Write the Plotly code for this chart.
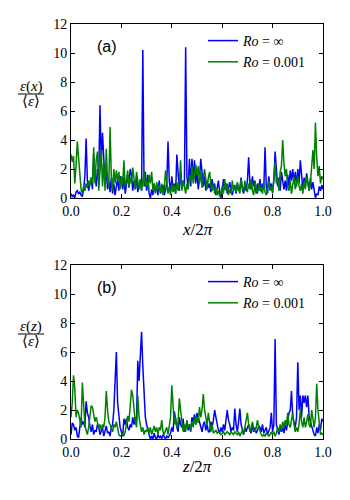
import numpy as np
import plotly.graph_objects as go

# sample positions x/2pi (and z/2pi), 201 points
pos = np.linspace(0.0, 1.0, 201)

# (a) eps(x)/<eps>
a_ro_inf = [
    0.3, 0.1, 0.2, 0.0, 0.4, 0.5, 0.3, 0.4, 0.2, 0.1,
    0.6, 1.5, 4.1, 1.2, 0.5, 0.9, 1.4, 0.6, 3.0, 1.6,
    0.8, 2.0, 1.2, 6.4, 2.5, 4.5, 3.0, 1.0, 1.8, 0.6,
    1.2, 0.4, 1.4, 0.3, 1.0, 0.2, 0.8, 1.3, 0.5, 1.5,
    1.2, 0.6, 1.4, 0.3, 0.9, 1.6, 0.8, 2.0, 1.6, 0.5,
    1.2, 0.6, 1.5, 0.4, 0.9, 1.2, 0.5, 10.2, 0.8, 1.8,
    0.5, 1.6, 0.3, 0.0, 0.6, 0.2, 1.0, 0.4, 0.8, 0.2,
    1.2, 0.3, 0.6, 0.9, 0.2, 0.5, 1.0, 3.9, 1.2, 0.4,
    1.5, 0.6, 1.0, 0.3, 3.0, 1.4, 0.5, 1.8, 0.7, 1.2,
    0.8, 10.4, 1.5, 0.6, 2.7, 0.8, 2.7, 1.2, 2.6, 1.0,
    1.8, 0.6, 1.4, 2.7, 1.8, 0.8, 1.5, 0.5, 1.2, 0.7,
    1.0, 0.4, 1.3, 0.6, 1.0, 0.2, 0.7, 1.2, 0.4, 0.0,
    0.5, 1.3, 0.6, 1.0, 0.3, 0.8, 1.1, 0.5, 0.2, 0.6,
    0.9, 0.3, 1.0, 0.5, 0.7, 1.4, 0.6, 0.3, 0.9, 0.5,
    1.2, 2.8, 1.0, 0.6, 1.5, 0.8, 1.2, 0.3, 1.0, 0.5,
    1.3, 0.4, 1.0, 0.6, 3.5, 0.8, 0.3, 1.5, 0.6, 1.0,
    0.4, 1.2, 3.2, 2.0, 0.8, 1.4, 0.5, 1.8, 1.0, 0.6,
    1.2, 0.5, 1.6, 0.8, 1.9, 1.2, 2.0, 1.0, 1.8, 0.8,
    2.0, 1.0, 2.6, 1.8, 0.6, 1.4, 0.8, 1.7, 1.2, 0.5,
    1.4, 0.6, 1.1, 0.4, 0.0, 0.3, 0.2, 0.8, 0.5, 0.9,
    0.6,
]
a_ro_001 = [
    3.0, 2.5, 2.9, 1.0, 2.2, 3.9, 2.8, 1.5, 0.6, 0.3,
    0.8, 0.5, 1.0, 0.7, 1.2, 0.9, 1.4, 1.0, 3.5, 1.0,
    2.6, 3.2, 0.5, 1.8, 3.3, 0.8, 2.5, 0.5, 3.4, 1.2,
    0.8, 4.9, 1.5, 0.5, 2.0, 1.0, 1.9, 1.2, 1.8, 0.6,
    1.5, 0.9, 2.6, 0.8, 1.2, 1.9, 0.7, 1.4, 1.0, 2.1,
    1.5, 0.6, 1.8, 1.0, 0.6, 1.3, 0.5, 1.2, 1.8, 0.8,
    1.2, 0.6, 1.6, 1.0, 1.8, 0.5, 1.0, 0.3, 1.1, 0.6,
    0.9, 0.4, 1.0, 0.2, 0.5, 1.9, 1.0, 0.3, 0.8, 0.2,
    1.0, 0.4, 0.9, 0.3, 1.1, 0.5, 1.0, 2.6, 0.5, 1.2,
    0.8, 0.3, 1.0, 0.6, 1.6, 1.1, 2.2, 1.0, 1.5, 2.3,
    1.6, 2.2, 1.0, 1.8, 0.7, 1.2, 2.0, 1.3, 0.6, 1.4,
    1.8, 0.9, 0.5, 1.0, 0.3, 0.7, 0.2, 0.5, 0.1, 0.4,
    0.8, 0.3, 1.3, 0.5, 1.0, 0.2, 0.6, 0.3, 1.2, 0.5,
    0.8, 0.4, 1.1, 0.6, 0.3, 1.3, 0.7, 0.5, 1.2, 0.6,
    0.4, 1.0, 0.6, 1.3, 0.5, 0.2, 1.1, 0.6, 0.3, 1.0,
    0.5, 0.8, 0.3, 1.0, 0.4, 0.2, 0.7, 1.2, 0.5, 0.8,
    0.3, 1.6, 2.5, 1.0, 1.4, 0.5, 1.8, 2.2, 4.0, 2.4,
    1.5, 2.0, 0.8, 0.5, 1.2, 0.3, 0.8, 1.5, 0.6, 1.0,
    1.5, 0.8, 0.5, 1.0, 0.3, 1.2, 0.6, 1.5, 0.9, 0.5,
    1.0, 2.0, 3.3, 2.0, 5.2, 2.8, 1.5, 2.2, 1.0, 1.5,
    1.3,
]

# (b) eps(z)/<eps>
b_ro_inf = [
    0.3, 1.1, 1.0, 0.6, 0.8, 0.2, 0.1, 0.8, 1.5, 1.0,
    1.2, 0.8, 2.6, 1.8, 1.5, 0.9, 0.5, 1.0, 0.3, 0.6,
    0.5, 1.0, 0.8, 0.3, 0.6, 0.8, 0.2, 0.5, 0.9, 0.4,
    0.5, 0.2, 0.8, 1.0, 2.0, 4.0, 6.0, 2.5, 1.5, 0.8,
    0.5, 0.2, 1.4, 1.0, 1.4, 0.8, 0.6, 1.0, 0.8, 1.5,
    1.0, 1.5, 1.2, 5.4, 4.0, 5.5, 7.4, 5.0, 3.0, 1.5,
    1.0, 0.5, 0.3, 0.0, 0.2, 0.0, 0.4, 0.1, 0.0, 0.3,
    0.1, 0.2, 0.0, 0.3, 0.1, 0.0, 0.2, 0.1, 0.2, 0.4,
    0.8, 0.5, 1.9, 1.2, 0.8, 0.5, 1.5, 1.0, 0.8, 1.4,
    0.5, 0.8, 1.2, 0.6, 1.0, 0.5, 1.5, 1.2, 1.7, 1.0,
    1.8, 1.5, 1.2, 0.8, 0.5, 1.0, 1.2, 0.6, 1.0, 0.5,
    0.5, 1.2, 0.8, 1.3, 2.0, 1.5, 1.0, 0.6, 0.4, 0.8,
    0.5, 1.0, 0.6, 1.5, 2.0, 1.3, 1.0, 0.5, 0.8, 0.6,
    2.1, 1.0, 0.5, 1.2, 2.1, 1.0, 0.5, 0.3, 0.8, 0.5,
    0.8, 1.0, 0.6, 0.4, 1.0, 0.5, 0.8, 0.4, 0.6, 0.9,
    0.8, 0.5, 1.0, 0.4, 0.6, 0.8, 0.3, 0.5, 0.8, 1.8,
    0.5, 1.0, 6.9, 1.0, 0.5, 0.3, 0.8, 0.5, 0.8, 0.4,
    1.0, 0.6, 1.2, 1.8, 2.0, 3.3, 1.5, 1.2, 0.8, 1.5,
    5.3, 2.0, 3.0, 1.5, 3.0, 2.5, 3.0, 2.2, 3.0, 1.5,
    1.2, 0.8, 0.5, 0.3, 0.2, 0.8, 0.4, 1.0, 0.6, 1.4,
    1.2,
]
b_ro_001 = [
    1.5, 2.5, 4.4, 3.5, 1.5, 2.0, 1.8, 1.2, 0.8, 3.9,
    2.0, 1.0, 0.6, 0.3, 0.8, 1.5, 2.3, 2.2, 1.5, 1.2,
    1.5, 1.2, 0.8, 1.0, 0.6, 1.0, 0.8, 1.5, 3.3, 2.0,
    1.2, 1.0, 0.7, 0.5, 1.0, 0.8, 1.2, 0.8, 0.3, 0.2,
    0.2, 0.4, 0.2, 0.5, 1.0, 1.6, 1.2, 2.5, 3.4, 3.0,
    2.0, 1.2, 0.8, 3.0, 1.5, 1.0, 0.5, 0.8, 0.3, 0.6,
    0.5, 0.8, 0.4, 0.8, 0.3, 0.6, 0.9, 0.5, 0.8, 0.3,
    0.8, 0.6, 1.3, 0.5, 0.3, 0.6, 0.8, 0.3, 0.8, 1.5,
    3.7, 2.0, 1.0, 1.5, 0.8, 1.2, 2.8, 2.0, 1.0, 0.5,
    1.0, 0.5, 1.3, 0.8, 1.0, 0.6, 1.2, 0.8, 1.5, 1.0,
    1.5, 1.1, 2.2, 1.5, 2.0, 3.1, 2.0, 1.5, 1.0, 1.8,
    1.2, 0.5, 1.0, 0.4, 0.5, 0.6, 0.4, 0.5, 0.4, 0.3,
    0.4, 0.5, 0.3, 0.4, 0.5, 0.4, 0.3, 0.5, 0.4, 0.3,
    0.5, 0.4, 0.3, 0.5, 0.2, 0.4, 0.6, 0.3, 0.8, 1.0,
    1.8, 1.0, 0.5, 0.8, 1.2, 0.6, 0.5, 0.8, 1.3, 0.8,
    0.5, 0.3, 0.2, 0.3, 0.2, 0.4, 0.3, 0.2, 0.3, 0.5,
    0.3, 0.5, 0.2, 0.4, 0.8, 0.5, 1.0, 0.6, 1.2, 0.8,
    1.3, 1.0, 1.8, 1.0, 0.8, 1.5, 1.8, 1.0, 0.5, 0.8,
    0.5, 1.0, 2.0, 1.2, 0.8, 1.5, 0.8, 1.2, 1.7, 1.0,
    0.8, 2.0, 1.2, 0.8, 1.5, 3.8, 2.0, 1.0, 0.3, 0.4,
    0.3,
]

x_ticks = [0.0, 0.2, 0.4, 0.6, 0.8, 1.0]
y_ticks = [0, 2, 4, 6, 8, 10, 12]
series_names = ["<i>Ro</i> = ∞", "<i>Ro</i> = 0.001"]
colors = ["#0000ff", "#008000"]

SERIF = "Liberation Serif"
SANS = "Liberation Sans"
W, H = 350, 500
OFF = 8  # page body margin


def px(p):
    return (p - OFF) / W


def py(p):
    return 1 - (p - OFF) / H


fig = go.Figure()

for ys, name, col in zip([a_ro_inf, a_ro_001], series_names, colors):
    fig.add_trace(go.Scatter(x=pos, y=ys, mode="lines", name=name,
                             line=dict(color=col, width=1.5),
                             xaxis="x", yaxis="y", legend="legend"))
for ys, name, col in zip([b_ro_inf, b_ro_001], series_names, colors):
    fig.add_trace(go.Scatter(x=pos, y=ys, mode="lines", name=name,
                             line=dict(color=col, width=1.5),
                             xaxis="x2", yaxis="y2", legend="legend2"))

ax_common = dict(showline=True, linecolor="black", linewidth=1, mirror="allticks",
                 ticks="inside", ticklen=4, tickcolor="black", showgrid=False,
                 zeroline=False, automargin=False,
                 tickfont=dict(family=SERIF, size=14, color="black"))

x_dom = [px(71), px(323)]
leg_style = dict(xanchor="left", yanchor="top", bgcolor="rgba(0,0,0,0)",
                 font=dict(family=SERIF, size=14, color="black"), tracegroupgap=0)
fig.update_layout(
    width=W, height=H,
    margin=dict(l=0, r=0, t=0, b=0, autoexpand=False),
    plot_bgcolor="white", paper_bgcolor="white",
    xaxis=dict(domain=x_dom, range=[0, 1], tickvals=x_ticks, tickformat=".1f",
               anchor="y", **ax_common),
    yaxis=dict(domain=[py(198), py(24)], range=[0, 12], tickvals=y_ticks,
               anchor="x", **ax_common),
    xaxis2=dict(domain=x_dom, range=[0, 1], tickvals=x_ticks, tickformat=".1f",
                anchor="y2", **ax_common),
    yaxis2=dict(domain=[py(439), py(265)], range=[0, 12], tickvals=y_ticks,
                anchor="x2", **ax_common),
    legend=dict(x=px(203), y=py(25), **leg_style),
    legend2=dict(x=px(203), y=py(266), **leg_style),
)

# panel labels, axis titles and fraction-style y labels
for lab, ly, var, xt_y, num_y, bar_y, den_y in [
    ("(a)", 47, "x", 230, 86, 94, 101),
    ("(b)", 287, "z", 466, 326, 334, 341),
]:
    fig.add_annotation(x=px(107), y=py(ly), xref="paper", yref="paper",
                       xanchor="center", yanchor="middle", text=lab, showarrow=False,
                       font=dict(family=SANS, size=16, color="black"))
    fig.add_annotation(x=px(197), y=py(xt_y), xref="paper", yref="paper",
                       xanchor="center", yanchor="middle",
                       text=f"<i>{var}</i>/2<i>π</i>", showarrow=False,
                       font=dict(family=SERIF, size=17, color="black"))
    fig.add_annotation(x=px(31), y=py(num_y), xref="paper", yref="paper",
                       xanchor="center", yanchor="middle",
                       text=f"<i>ε</i>(<i>{var}</i>)", showarrow=False,
                       font=dict(family=SERIF, size=15, color="black"))
    fig.add_annotation(x=px(31), y=py(den_y), xref="paper", yref="paper",
                       xanchor="center", yanchor="middle",
                       text="⟨<i>ε</i>⟩", showarrow=False,
                       font=dict(family=SERIF, size=15, color="black"))
    fig.add_shape(type="line", xref="paper", yref="paper",
                  x0=px(18), x1=px(44), y0=py(bar_y), y1=py(bar_y),
                  line=dict(color="black", width=1))

fig.write_html("out.html")
